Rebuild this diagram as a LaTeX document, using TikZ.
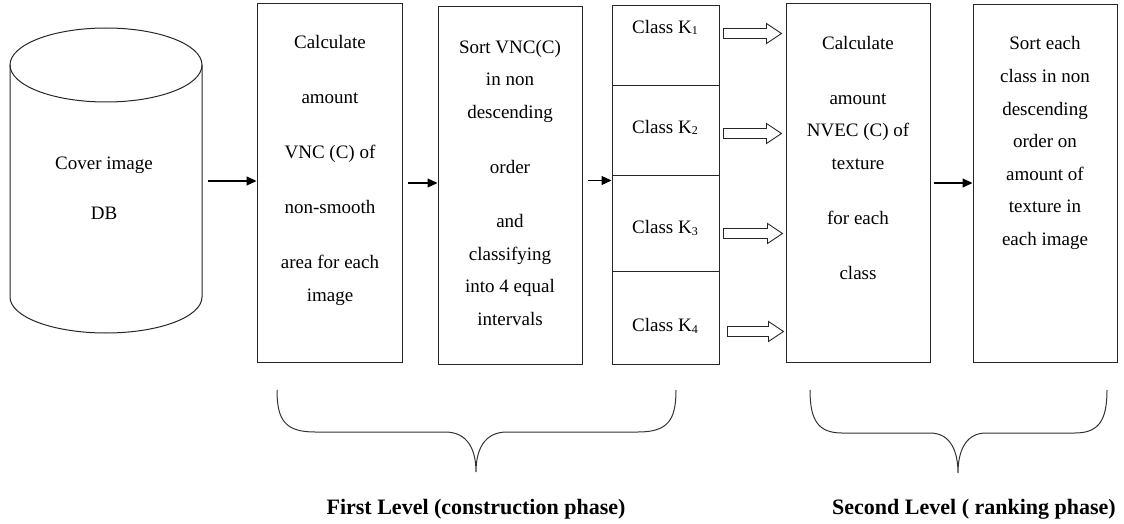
\documentclass[tikz,border=0pt]{standalone}
\usepackage{fontspec}
\setmainfont{Liberation Serif}
\usetikzlibrary{arrows.meta,calc}
\newcommand\ksub[1]{\raisebox{-1.5pt}{\fontsize{12}{12}\selectfont #1}}
\begin{document}
\begin{tikzpicture}[x=1pt,y=-1pt,
  box/.style={draw=black!85, line width=1pt, rectangle, inner sep=0pt},
  txt/.style={align=center, inner sep=0pt, anchor=base, font=\fontsize{19}{32.6}\selectfont},
  arr/.style={line width=1.2pt, -{Triangle[length=10pt,width=9pt]}},
  hollow/.style={draw=black!85, line width=0.9pt, to path={let \p1=(\tikztostart), \p2=(\tikztotarget) in (\x1,\y1+5pt) -- (\x2-15pt,\y1+5pt) -- (\x2-15pt,\y1+10pt) -- (\x2,\y1) -- (\x2-15pt,\y1-10pt) -- (\x2-15pt,\y1-5pt) -- (\x1,\y1-5pt) -- cycle}},
  brace/.style={draw=black!80, line width=1pt},
  lbl/.style={font=\fontsize{22}{24}\selectfont\bfseries, anchor=base, inner sep=0pt}
]
\useasboundingbox (0,0) rectangle (1124,524);

% cylinder
\draw[box] (106,65) ellipse [x radius=96, y radius=37];
\draw[box] (10,65) -- (10,297) arc[start angle=180, end angle=0, x radius=96, y radius=36] -- (202,65);
\node[inner sep=0pt, minimum width=192, minimum height=232] (cyl) at (106,181) {};
\node[txt] (cylt) at (104,219.5) {Cover image\\[17.4pt] DB};

% boxes
\node[box, minimum width=145, minimum height=358] (b1) at (329.5,183) {};
\node[box, minimum width=144, minimum height=357] (b2) at (510,185.5) {};
\node[box, minimum width=107, minimum height=80] (k1) at (665.5,46) {};
\node[box, minimum width=107, minimum height=89] (k2) at (665.5,130.5) {};
\node[box, minimum width=107, minimum height=96] (k3) at (665.5,223) {};
\node[box, minimum width=107, minimum height=93] (k4) at (665.5,317.5) {};
\node[box, minimum width=144, minimum height=358] (b3) at (858,183) {};
\node[box, minimum width=144, minimum height=357] (b4) at (1045,183.5) {};

% texts (anchor = baseline of last line)
\node[txt] (b1t) at (330,301.5) {Calculate\\[22.4pt] amount\\[22.4pt] VNC (C) of\\[22.4pt] non-smooth\\[22.4pt] area for each\\ image};
\node[txt] (b2t) at (510,325.5) {Sort VNC(C)\\ in non\\ descending\\[22pt] order\\[22pt] and\\ classifying\\ into 4 equal\\ intervals};
\node[txt] (k1t) at (665,33.5) {Class K\ksub{1}};
\node[txt] (k2t) at (665,133.5) {Class K\ksub{2}};
\node[txt] (k3t) at (665,233.5) {Class K\ksub{3}};
\node[txt] (k4t) at (665,331.5) {Class K\ksub{4}};
\node[txt] (b3t) at (858,279.5) {Calculate\\[22.4pt] amount\\ NVEC (C) of\\ texture\\[22.4pt] for each\\[22.4pt] class};
\node[txt] (b4t) at (1045,245.5) {Sort each\\ class in non\\ descending\\ order on\\ amount of\\ texture in\\ each image};

% arrows
\draw[arr] ([xshift=6pt]cyl.east) -- (cyl.east -| b1.west);
\draw[arr] ([xshift=5pt]b1.east) -- (b1.east -| b2.west);
\draw[arr] ([xshift=5pt,yshift=5pt]b2.east) -- ([yshift=5pt]b2.east -| k3.west);
\draw[arr] ([xshift=3pt]b3.east) -- (b3.east -| b4.west);

% hollow arrows
\draw[hollow] ([xshift=4pt]k1.east |- k1t.base) to ([xshift=-4pt]b3.west |- k1t.base);
\draw[hollow] ([xshift=4pt]k2.east |- k2t.base) to ([xshift=-4pt]b3.west |- k2t.base);
\draw[hollow] ([xshift=4pt]k3.east |- k3t.base) to ([xshift=-3pt]b3.west |- k3t.base);
\draw[hollow] ([xshift=8pt]k4.east |- k4t.base) to ([xshift=-2pt]b3.west |- k4t.base);

% braces
\draw[brace] (277,390) .. controls (277,420) and (285,432) .. (315,432) -- (445,432)
  .. controls (468,432) and (476,450) .. (476,472)
  .. controls (476,450) and (484,432) .. (507,432) -- (638,432)
  .. controls (668,432) and (676,420) .. (676,390);
\draw[brace] (810,390) .. controls (810,420) and (818,433) .. (842,433) -- (930,433)
  .. controls (951,433) and (958,452) .. (958,473)
  .. controls (958,452) and (965,433) .. (986,433) -- (1075,433)
  .. controls (1099,433) and (1107,420) .. (1107,390);

\node[lbl] (l1) at (476,514) {First Level (construction phase)};
\node[lbl] (l2) at (974,514) {Second Level ( ranking phase)};
\end{tikzpicture}
\end{document}
